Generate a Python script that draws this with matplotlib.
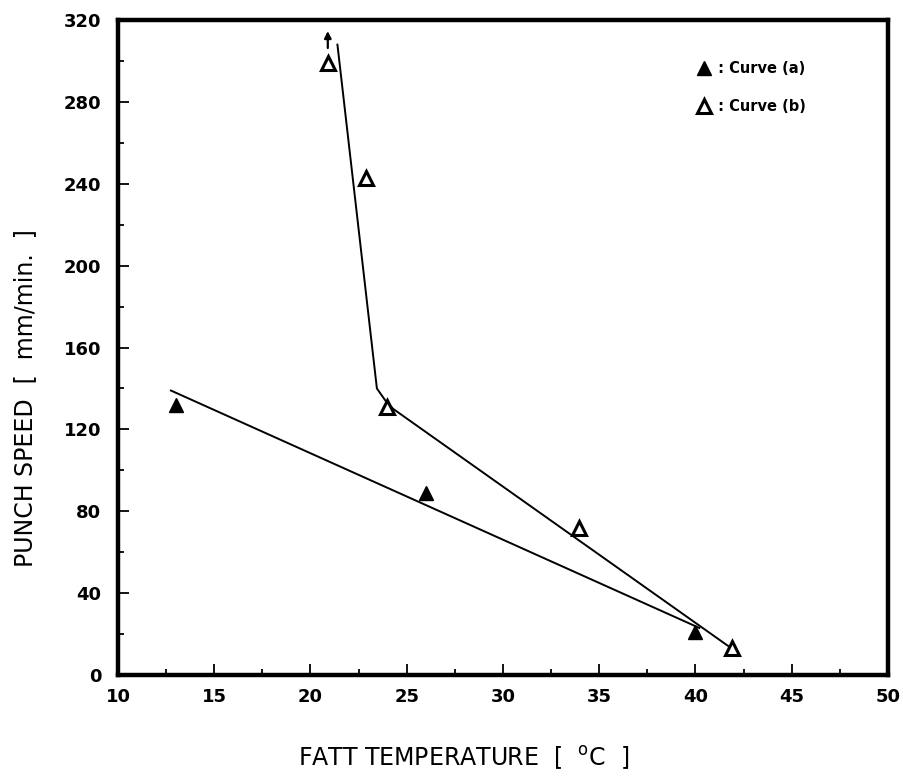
import numpy as np
import matplotlib
matplotlib.use('Agg')
import matplotlib.pyplot as plt
from matplotlib.ticker import MultipleLocator

# curve (a): filled triangles
temp_a = [13, 26, 40]
speed_a = [132, 89, 21]
fit_a_x = [12.75, 40.2]
fit_a_y = [139, 23]

# curve (b): open triangles
temp_b = [20.9, 22.9, 23.95, 33.95, 41.9]
speed_b = [299, 243, 131, 72, 13]
fit_b_x = [21.4, 23.45, 23.9, 24.3, 41.8]
fit_b_y = [308, 140, 134, 130, 13.5]

xticks = [10, 15, 20, 25, 30, 35, 40, 45, 50]
yticks = [0, 40, 80, 120, 160, 200, 240, 280, 320]

plt.rcParams['font.family'] = ['DejaVu Sans']

fig = plt.figure(figsize=(9.04, 7.81), dpi=100)
ax = fig.add_axes([0.1305, 0.1357, 0.8518, 0.8386])

ax.plot(fit_a_x, fit_a_y, color='black', lw=1.4)
ax.plot(fit_b_x, fit_b_y, color='black', lw=1.4)
ax.plot(temp_a, speed_a, linestyle='none', marker='^', ms=10, color='black',
        label=' : Curve (a)')
ax.plot(temp_b, speed_b, linestyle='none', marker='^', ms=10, mfc='white',
        mec='black', mew=2.2, label=' : Curve (b)')

# arrow showing the point at ~21 is a lower bound
ax.annotate('', xy=(temp_b[0], 316), xytext=(temp_b[0], 305),
            arrowprops=dict(arrowstyle='-|>', color='black', lw=1.6,
                            mutation_scale=10))

ax.set_xlim(10, 50)
ax.set_ylim(0, 320)
ax.set_xticks(xticks)
ax.set_yticks(yticks)
ax.xaxis.set_minor_locator(MultipleLocator(2.5))
ax.yaxis.set_minor_locator(MultipleLocator(20))
ax.tick_params(which='both', direction='in', top=False, right=False,
               labelsize=13, width=1.3)
ax.tick_params(which='major', length=8)
ax.tick_params(which='minor', length=4)
ax.tick_params(axis='x', which='major', pad=9)
ax.tick_params(axis='y', which='major', pad=12)
for lab in ax.get_xticklabels() + ax.get_yticklabels():
    lab.set_fontweight('bold')
for sp in ax.spines.values():
    sp.set_linewidth(3.2)

ax.set_xlabel('FATT TEMPERATURE  [  $^{\\mathrm{o}}$C  ]', fontsize=17)
ax.set_ylabel('PUNCH SPEED  [  mm/min.  ]', fontsize=17)
ax.xaxis.set_label_coords(0.449, -0.105)
ax.yaxis.set_label_coords(-0.105, 0.423)

ax.legend(frameon=False, loc='upper left', bbox_to_anchor=(0.735, 0.958),
          handletextpad=0.1, handlelength=1.0, labelspacing=1.6,
          prop={'family': 'DejaVu Sans', 'weight': 'bold', 'size': 10.5})

fig.savefig('out.png', dpi=100)
